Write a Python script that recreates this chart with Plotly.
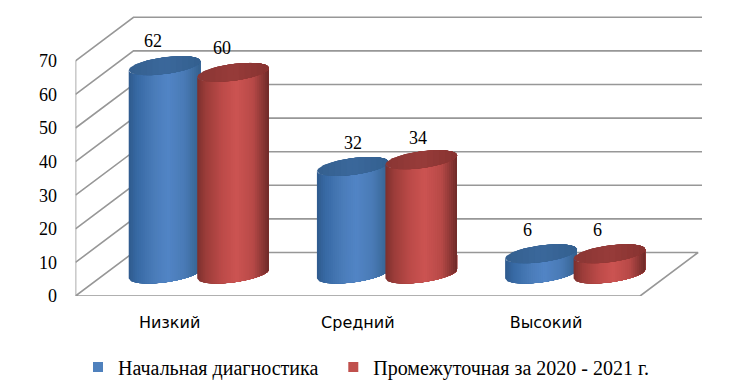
import numpy as np
import plotly.graph_objects as go

categories = ["Низкий", "Средний", "Высокий"]
series_names = ["Начальная диагностика\u00a0\u00a0", "Промежуточная за 2020 - 2021 г."]
initial_values = [62, 32, 6]
interim_values = [60, 34, 6]
y_ticks = [0, 10, 20, 30, 40, 50, 60, 70]

PAGE = 8              # browser body margin
W, H = 735 - PAGE, 386 - PAGE
L, R, T, B = 75.5, 702, 8, 296
PX_X = 188.2          # pixels per category
PX_Y = 3.36           # pixels per value unit
DX = 58 / PX_X        # depth of the box, x units
DY = 43.5 / PX_Y      # depth of the box, y units
X0 = -0.5
X1 = X0 + (R - L) / PX_X
XF = 2.5
Y1 = (B - T) / PX_Y
GRID = "#979797"

A = 35.8 / PX_X       # ellipse half-width
BB = 8.4 / PX_Y       # ellipse half-height
K = 4.5 / PX_Y        # tilt
BASE = 22 / PX_Y      # floor centre of the cylinders
OFF = [-0.027, 0.337]

body_stops = [
    ([(0.0, "#2f5b8e"), (0.12, "#386aa5"), (0.35, "#4a7cb9"), (0.55, "#5285c6"),
      (0.78, "#4a7bb6"), (1.0, "#35628f")],
     [(0.0, "#35608f"), (0.5, "#3b689b"), (1.0, "#34608f")]),
    ([(0.0, "#7c302e"), (0.12, "#9c3d3a"), (0.35, "#bd4b49"), (0.55, "#cc5452"),
      (0.78, "#b84a48"), (1.0, "#6f2a28")],
     [(0.0, "#8a3634"), (0.5, "#983c3a"), (1.0, "#873331")]),
]


def mix(stops, f):
    xs = [s[0] for s in stops]
    cols = [[int(s[1][i:i + 2], 16) for i in (1, 3, 5)] for s in stops]
    return "rgb(%d,%d,%d)" % tuple(np.interp(f, xs, [c[j] for c in cols]) for j in range(3))


fig = go.Figure()


def line(xs, ys, width=1.6):
    fig.add_trace(go.Scatter(x=xs, y=ys, mode="lines", line=dict(color=GRID, width=width),
                             hoverinfo="skip", showlegend=False))


def patch(px, py, c):
    fig.add_trace(go.Scatter(x=px, y=py, mode="lines", fill="toself", fillcolor=c,
                             line=dict(color=c, width=0), hoverinfo="skip", showlegend=False))


# walls and floor
for t in y_ticks[1:]:
    line([X0, X0 + DX, X1], [t, t + DY, t + DY])
line([X0, X0], [0, y_ticks[-1]])
line([X0 + DX, X0, XF, XF + DX, X0 + DX], [DY, 0, 0, DY, DY])


def cylinder(cx, value, body, top):
    # painted left to right, each strip reaching the right edge, so no seams show
    n = 36
    yb, yt = BASE, BASE + value
    for i in range(n):
        uu = np.linspace(-1 + 2 * i / n, 1, 60)
        arc = K * uu - BB * np.sqrt(np.clip(1 - uu ** 2, 0, 1))
        xs = cx + A * uu
        px = np.r_[xs, xs[::-1], xs[0]]
        py = np.r_[yb + arc, (yt + arc)[::-1], yb + arc[0]]
        patch(px, py, mix(body, (i + 0.5) / n))
    for i in range(12):
        uu = np.linspace(-1 + i / 6, 1, 60)
        s = BB * np.sqrt(np.clip(1 - uu ** 2, 0, 1))
        xs = cx + A * uu
        px = np.r_[xs, xs[::-1], xs[0]]
        py = np.r_[yt + K * uu - s, (yt + K * uu + s)[::-1], yt + K * uu[0] - s[0]]
        patch(px, py, mix(top, (i + 0.5) / 12))


label_shift = [[(-12, 25), (-11, 24)], [(0, 23), (-3, 22)], [(-13, 24), (-12, 24)]]
annotations = []
for i in range(len(categories)):
    for j, vals in enumerate((initial_values, interim_values)):
        cx = i + OFF[j]
        cylinder(cx, vals[i], *body_stops[j])
        sx, sy = label_shift[i][j]
        annotations.append(dict(x=cx, y=BASE + vals[i], text=str(vals[i]), showarrow=False,
                                xshift=sx, yshift=sy,
                                font=dict(family="Liberation Serif", size=18, color="#000")))

for name, col in zip(series_names, ("#4f81bd", "#c0504d")):
    fig.add_trace(go.Scatter(x=[None], y=[None], mode="markers", name=name,
                             marker=dict(symbol="square", size=10, color=col)))

fig.update_layout(
    width=W, height=H, autosize=False,
    margin=dict(l=0, r=0, t=0, b=0, pad=0, autoexpand=False),
    paper_bgcolor="white", plot_bgcolor="white",
    annotations=annotations,
    showlegend=True,
    legend=dict(orientation="h", x=(114 - PAGE - 36) / W, xanchor="left",
                y=1 - (367 - PAGE) / H, yanchor="middle",
                font=dict(family="Liberation Serif", size=20, color="#000"),
                bgcolor="rgba(0,0,0,0)", itemwidth=30),
    xaxis=dict(domain=[(L - PAGE) / W, (R - PAGE) / W], range=[X0, X1],
               tickmode="array", tickvals=[0, 1, 2], ticktext=categories,
               showgrid=False, zeroline=False, showline=False,
               ticks="outside", ticklen=12, tickcolor="rgba(0,0,0,0)",
               tickfont=dict(family="DejaVu Sans", size=16, color="#000")),
    yaxis=dict(domain=[1 - (B - PAGE) / H, 1 - (T - PAGE) / H], range=[0, Y1],
               tickmode="array", tickvals=y_ticks,
               showgrid=False, zeroline=False, showline=False,
               ticks="outside", ticklen=14, tickcolor="rgba(0,0,0,0)",
               tickfont=dict(family="Liberation Serif", size=18, color="#000")),
)
fig.write_html("out.html")
